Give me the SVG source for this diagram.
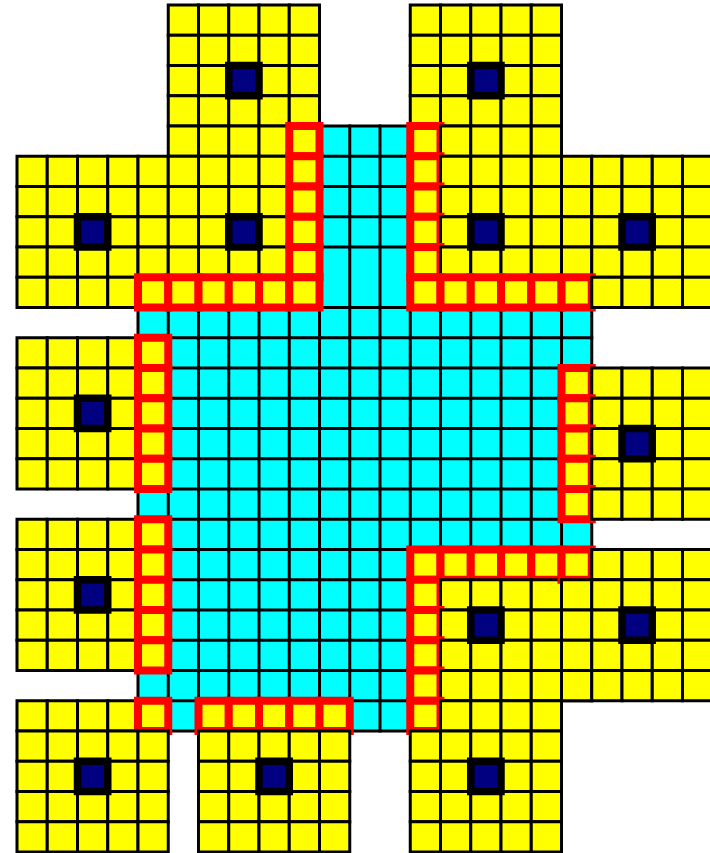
<svg xmlns="http://www.w3.org/2000/svg" width="710" height="853" viewBox="0 0 710 853">
<style>
.bg{fill:#fff}
.cy{fill:#0ff;stroke:#000;stroke-width:3}
.gl{fill:none;stroke:#000;stroke-width:3;stroke-linecap:square}
.blk{fill:#ff0;stroke:#000;stroke-width:3}
.r{stroke:#f00;stroke-width:8}
.ctr{fill:#000080;stroke:#000;stroke-width:7.5}
</style>
<defs>
<rect id="c" width="30.25" height="30.25"/>
<rect id="ctr" class="ctr" x="60.5" y="60.5" width="30.25" height="30.25"/>
<g id="Y"><use href="#c"/><use href="#c" x="30.25"/><use href="#c" x="60.5"/><use href="#c" x="90.75"/><use href="#c" x="121"/></g>
<g id="L"><use href="#c" class="r"/><use href="#c" x="30.25"/><use href="#c" x="60.5"/><use href="#c" x="90.75"/><use href="#c" x="121"/></g>
<g id="E"><use href="#c"/><use href="#c" x="30.25"/><use href="#c" x="60.5"/><use href="#c" x="90.75"/><use href="#c" x="121" class="r"/></g>
<g id="R"><use href="#c" class="r"/><use href="#c" x="30.25" class="r"/><use href="#c" x="60.5" class="r"/><use href="#c" x="90.75" class="r"/><use href="#c" x="121" class="r"/></g>
</defs>
<rect class="bg" width="710" height="853"/>
<g id="domain">
<path class="cy" d="M319.5 126H410.25V277.25H591.75V700.75H410.25V731H138V277.25H319.5Z"/>
<path class="gl" d="M168.25 277.25V731M198.5 277.25V731M228.75 277.25V731M259 277.25V731M289.25 277.25V731M319.5 126V731M349.75 126V731M380 126V731M410.25 126V731M440.5 277.25V700.75M470.75 277.25V700.75M501 277.25V700.75M531.25 277.25V700.75M561.5 277.25V700.75M319.5 156.25H410.25M319.5 186.5H410.25M319.5 216.75H410.25M319.5 247H410.25M138 307.5H591.75M138 337.75H591.75M138 368H591.75M138 398.25H591.75M138 428.5H591.75M138 458.75H591.75M138 489H591.75M138 519.25H591.75M138 549.5H591.75M138 579.75H591.75M138 610H591.75M138 640.25H591.75M138 670.5H591.75M138 700.75H410.25"/>
</g>
<g id="block-7-2" class="blk" transform="translate(168.25,5)"><use href="#Y"/><use href="#Y" y="30.25"/><use href="#Y" y="60.5"/><use href="#Y" y="90.75"/><use href="#E" y="121"/><use href="#ctr"/></g>
<g id="block-15-2" class="blk" transform="translate(410.25,5)"><use href="#Y"/><use href="#Y" y="30.25"/><use href="#Y" y="60.5"/><use href="#Y" y="90.75"/><use href="#L" y="121"/><use href="#ctr"/></g>
<g id="block-2-7" class="blk" transform="translate(17,156.25)"><use href="#Y"/><use href="#Y" y="30.25"/><use href="#Y" y="60.5"/><use href="#Y" y="90.75"/><use href="#E" y="121"/><use href="#ctr"/></g>
<g id="block-7-7" class="blk" transform="translate(168.25,156.25)"><use href="#E"/><use href="#E" y="30.25"/><use href="#E" y="60.5"/><use href="#E" y="90.75"/><use href="#R" y="121"/><use href="#ctr"/></g>
<g id="block-15-7" class="blk" transform="translate(410.25,156.25)"><use href="#L"/><use href="#L" y="30.25"/><use href="#L" y="60.5"/><use href="#L" y="90.75"/><use href="#R" y="121"/><use href="#ctr"/></g>
<g id="block-20-7" class="blk" transform="translate(561.5,156.25)"><use href="#Y"/><use href="#Y" y="30.25"/><use href="#Y" y="60.5"/><use href="#Y" y="90.75"/><use href="#L" y="121"/><use href="#ctr"/></g>
<g id="block-2-13" class="blk" transform="translate(17,337.75)"><use href="#E"/><use href="#E" y="30.25"/><use href="#E" y="60.5"/><use href="#E" y="90.75"/><use href="#E" y="121"/><use href="#ctr"/></g>
<g id="block-20-14" class="blk" transform="translate(561.5,368)"><use href="#L"/><use href="#L" y="30.25"/><use href="#L" y="60.5"/><use href="#L" y="90.75"/><use href="#L" y="121"/><use href="#ctr"/></g>
<g id="block-2-19" class="blk" transform="translate(17,519.25)"><use href="#E"/><use href="#E" y="30.25"/><use href="#E" y="60.5"/><use href="#E" y="90.75"/><use href="#E" y="121"/><use href="#ctr"/></g>
<g id="block-15-20" class="blk" transform="translate(410.25,549.5)"><use href="#R"/><use href="#L" y="30.25"/><use href="#L" y="60.5"/><use href="#L" y="90.75"/><use href="#L" y="121"/><use href="#ctr"/></g>
<g id="block-20-20" class="blk" transform="translate(561.5,549.5)"><use href="#L"/><use href="#Y" y="30.25"/><use href="#Y" y="60.5"/><use href="#Y" y="90.75"/><use href="#Y" y="121"/><use href="#ctr"/></g>
<g id="block-2-25" class="blk" transform="translate(17,700.75)"><use href="#E"/><use href="#Y" y="30.25"/><use href="#Y" y="60.5"/><use href="#Y" y="90.75"/><use href="#Y" y="121"/><use href="#ctr"/></g>
<g id="block-8-25" class="blk" transform="translate(198.5,700.75)"><use href="#R"/><use href="#Y" y="30.25"/><use href="#Y" y="60.5"/><use href="#Y" y="90.75"/><use href="#Y" y="121"/><use href="#ctr"/></g>
<g id="block-15-25" class="blk" transform="translate(410.25,700.75)"><use href="#L"/><use href="#Y" y="30.25"/><use href="#Y" y="60.5"/><use href="#Y" y="90.75"/><use href="#Y" y="121"/><use href="#ctr"/></g>
</svg>
